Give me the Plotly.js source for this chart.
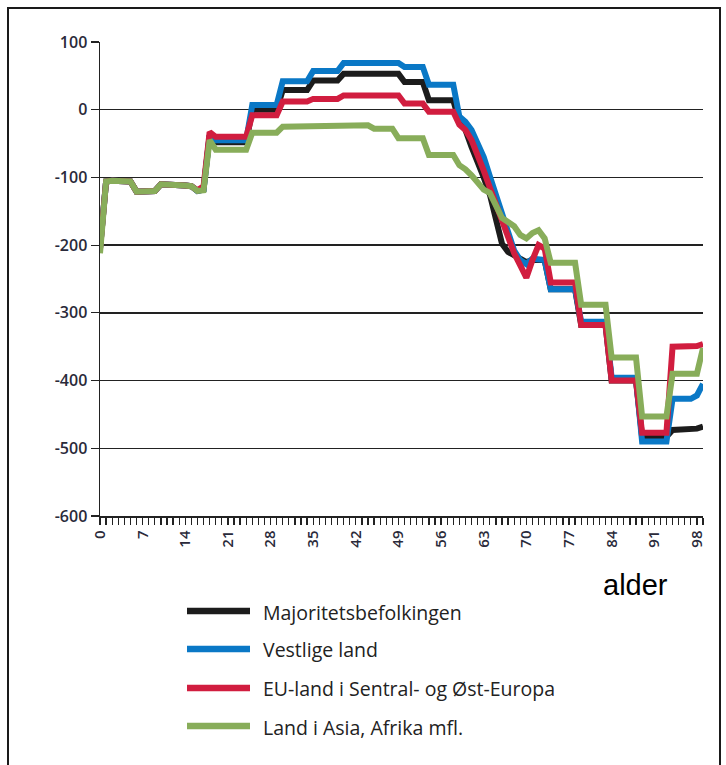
<!DOCTYPE html>
<html>
<head>
<meta charset="utf-8">
<script src="https://cdn.plot.ly/plotly-3.0.1.min.js"></script>
<style>
  html, body { margin: 0; padding: 0; background: #fff; }
  #wrap { position: relative; width: 726px; height: 765px; overflow: hidden; }
  #chart { width: 726px; height: 765px; }
  #frame { position: absolute; left: 7px; top: 7px; width: 710px; height: 780px; border: 2px solid #1a1a1a; pointer-events: none; }
</style>
</head>
<body>
<div id="wrap"><div id="chart"></div><div id="frame"></div></div>
<script>
// Ages 0..99
const ages = Array.from({length: 100}, (_, i) => i);

const seriesNames = [
  "Majoritetsbefolkingen",
  "Vestlige land",
  "EU-land i Sentral- og Øst-Europa",
  "Land i Asia, Afrika mfl."
];

// Majoritetsbefolkingen
const majoritet = [
  -205, -106, -105, -105, -105, -106, -121, -121, -121, -120,
  -110, -110, -110, -111, -112, -113, -120, -118, -38, -48,
  -48, -48, -48, -48, -48, 0, 0, 0, 0, 0,
  29, 29, 29, 29, 29, 43, 43, 43, 43, 43,
  53, 53, 53, 53, 53, 53, 53, 53, 53, 53,
  41, 41, 41, 41, 14, 14, 14, 14, 14, -18,
  -30, -55, -75, -100, -125, -160, -198, -210, -215, -220,
  -225, -222, -222, -222, -265, -265, -265, -265, -265, -318,
  -318, -318, -318, -318, -400, -400, -400, -400, -400, -483,
  -483, -483, -483, -483, -473, -473, -472, -472, -471, -468
];

// Vestlige land
const vestlige = [
  -205, -106, -105, -105, -105, -106, -121, -121, -121, -120,
  -110, -110, -110, -111, -112, -113, -120, -118, -38, -45,
  -45, -45, -45, -45, -45, 7, 7, 7, 7, 7,
  42, 42, 42, 42, 42, 57, 57, 57, 57, 57,
  69, 69, 69, 69, 69, 69, 69, 69, 69, 69,
  63, 63, 63, 63, 37, 37, 37, 37, 37, -10,
  -18, -30, -48, -70, -98, -125, -155, -185, -208, -222,
  -228, -220, -222, -222, -265, -265, -265, -265, -265, -313,
  -313, -313, -313, -313, -396, -396, -396, -396, -396, -490,
  -490, -490, -490, -490, -427, -427, -427, -427, -422, -405
];

// EU-land i Sentral- og Øst-Europa
const euland = [
  -206, -106, -105, -105, -105, -106, -121, -121, -121, -120,
  -110, -110, -110, -111, -112, -113, -119, -113, -33, -40,
  -40, -40, -40, -40, -40, -8, -8, -8, -8, -8,
  12, 12, 12, 12, 12, 16, 16, 16, 16, 16,
  21, 21, 21, 21, 21, 21, 21, 21, 21, 21,
  9, 9, 9, 9, -3, -3, -3, -3, -3, -22,
  -30, -45, -65, -90, -115, -140, -165, -190, -212, -230,
  -248, -222, -200, -205, -255, -255, -255, -255, -255, -318,
  -318, -318, -318, -318, -400, -400, -400, -400, -400, -477,
  -477, -477, -477, -477, -350, -350, -350, -350, -349, -346
];

// Land i Asia, Afrika mfl.
const asiaAfrika = [
  -212, -106, -105, -105, -105, -106, -121, -121, -121, -120,
  -110, -110, -110, -111, -112, -113, -120, -119, -45, -59,
  -59, -59, -59, -59, -59, -34, -34, -34, -34, -34,
  -25, -25, -25, -25, -25, -23, -23, -23, -23, -23,
  -23, -23, -23, -23, -23, -28, -28, -28, -28, -42,
  -42, -42, -42, -42, -67, -67, -67, -67, -67, -82,
  -88, -97, -108, -118, -123, -140, -160, -166, -172, -185,
  -190, -182, -178, -190, -226, -226, -226, -226, -226, -288,
  -288, -288, -288, -288, -366, -366, -366, -366, -366, -453,
  -453, -453, -453, -453, -390, -390, -390, -390, -390, -352
];

const seriesValues = [majoritet, vestlige, euland, asiaAfrika];
const seriesColors = ["#1c1c1c", "#0a78c6", "#d11d3f", "#88ad5a"];

const xTickVals = [0, 7, 14, 21, 28, 35, 42, 49, 56, 63, 70, 77, 84, 91, 98];
const xTickText = ["0", "7", "14", "21", "28", "35", "42", "49", "56", "63", "70", "77", "84", "91", "98"];
const yTickVals = [100, 0, -100, -200, -300, -400, -500, -600];
const yTickText = ["100", "0", "-100", "-200", "-300", "-400", "-500", "-600"];
const xAxisTitle = "alder";

const traces = seriesValues.map((vals, i) => ({
  type: "scatter",
  mode: "lines",
  x: ages,
  y: vals,
  name: seriesNames[i],
  line: { color: seriesColors[i], width: 6, shape: "linear" },
  showlegend: false,
  hoverinfo: "x+y+name"
}));

// Manual legend below the plot (shapes + annotations), in paper coords
const plotL = 100, plotR = 703, plotT = 42, plotB = 516;
const pw = plotR - plotL, ph = plotB - plotT;
const px = v => (v - plotL) / pw;
const py = v => (plotB - v) / ph;
const legendRows = [611, 649, 688, 726];
const shapes = [];
const annotations = [];
seriesNames.forEach((nm, i) => {
  shapes.push({
    type: "line", xref: "paper", yref: "paper",
    x0: px(187), x1: px(250), y0: py(legendRows[i]), y1: py(legendRows[i]),
    line: { color: seriesColors[i], width: 6.5 }
  });
  annotations.push({
    xref: "paper", yref: "paper", x: px(261), y: py(legendRows[i] + 1),
    xanchor: "left", yanchor: "middle", showarrow: false,
    text: nm, font: { family: "Open Sans, sans-serif", size: 19.5, color: "#222" }
  });
});
annotations.push({
  xref: "paper", yref: "paper", x: px(635), y: py(585),
  xanchor: "center", yanchor: "middle", showarrow: false,
  text: xAxisTitle, font: { family: "Liberation Sans, Arial, sans-serif", size: 29, color: "#000" }
});

const layout = {
  width: 726, height: 765,
  margin: { l: plotL, r: 726 - plotR, t: plotT, b: 765 - plotB, pad: 0 },
  paper_bgcolor: "#fff", plot_bgcolor: "#fff",
  showlegend: false,
  xaxis: {
    range: [0, 99], tickmode: "array", tickvals: xTickVals, ticktext: xTickText,
    tickangle: -90, ticks: "outside", ticklen: 7, tickwidth: 1.2, tickcolor: "#222",
    minor: { dtick: 1, ticks: "outside", ticklen: 7, tickwidth: 1.2, tickcolor: "#222", showgrid: false },
    showline: true, linecolor: "#222", linewidth: 1.5, showgrid: false, zeroline: false,
    tickfont: { family: "Open Sans, sans-serif", size: 15, color: "#2a2a3a", weight: 600 },
    fixedrange: true
  },
  yaxis: {
    range: [-600, 100], tickmode: "array", tickvals: yTickVals, ticktext: yTickText,
    ticks: "outside", ticklen: 8, tickwidth: 1.2, tickcolor: "#222",
    showline: true, linecolor: "#222", linewidth: 1.5,
    showgrid: true, gridcolor: "#222", gridwidth: 1.4, zeroline: false,
    tickfont: { family: "Open Sans, sans-serif", size: 16, color: "#2a2a3a", weight: 600 },
    fixedrange: true
  },
  shapes: shapes,
  annotations: annotations
};

Plotly.newPlot("chart", traces, layout, { displayModeBar: false, staticPlot: true });
</script>
</body>
</html>
